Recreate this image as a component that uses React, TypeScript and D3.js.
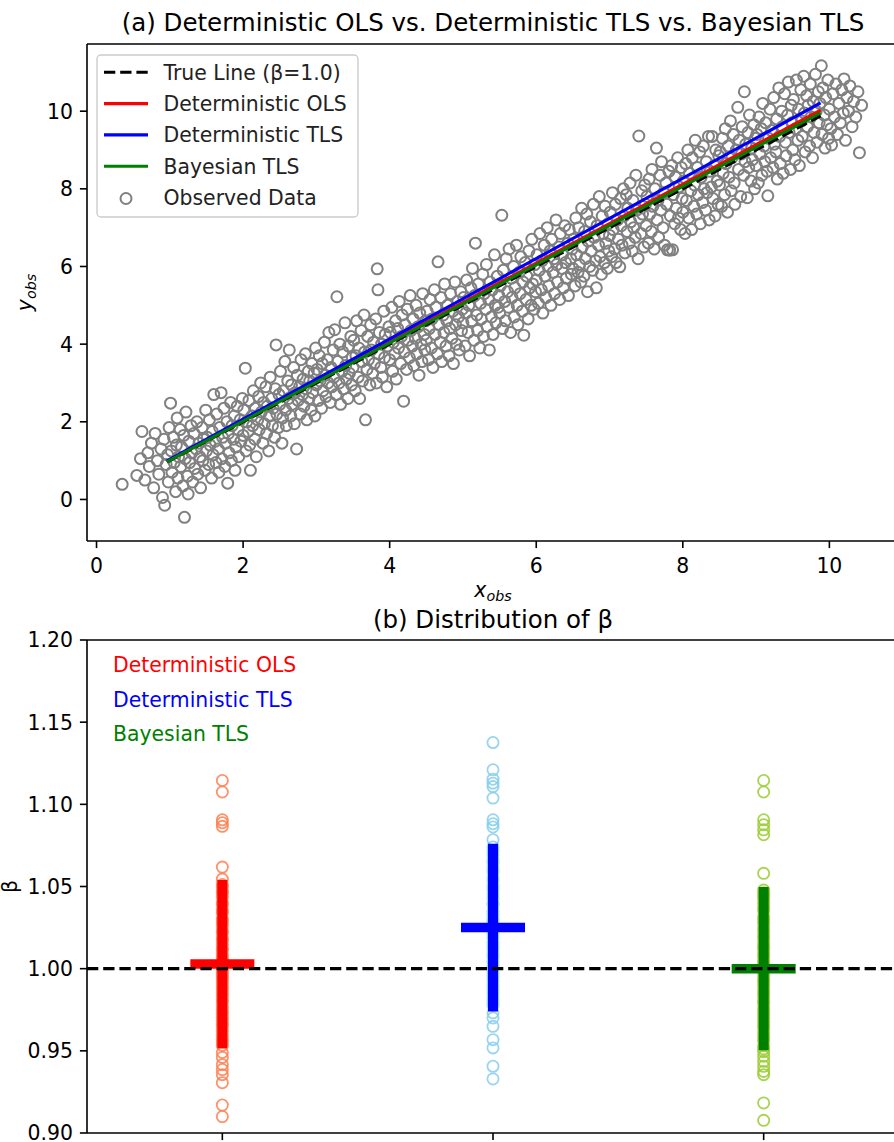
import React from 'react';
import * as d3 from 'd3';

const W = 894;
const H = 1142;
const FONT = "'DejaVu Sans', sans-serif";

const obsPoints: [number, number][] = [
[0.35,0.39],[0.55,0.62],[0.6,1.05],[0.62,1.75],[0.66,0.5],[0.7,1.2],[0.72,0.85],[0.75,1.45],[0.78,0.3],[0.8,1.7],[0.83,1.0],[0.85,0.65],[0.88,1.3],[0.9,0.05],[0.92,1.55],[0.93,-0.15],[0.95,0.9],[0.97,1.15],[0.98,0.45],[0.99,1.85],
[1.01,2.48],[1.02,1.25],[1.03,0.7],[1.05,1.6],[1.06,0.95],[1.08,0.2],[1.09,1.4],[1.1,2.1],[1.11,0.55],[1.12,1.1],[1.14,1.8],[1.15,0.85],[1.16,1.35],[1.18,0.35],[1.19,1.65],[1.2,-0.46],[1.21,1.05],[1.22,2.25],[1.24,0.6],[1.25,0.14],[1.26,1.5],[1.27,0.95],[1.29,1.9],[1.3,1.2],[1.31,0.45],[1.33,1.7],[1.34,0.8],[1.36,1.3],[1.37,2.0],[1.38,0.65],[1.4,1.45],[1.41,1.1],[1.42,0.3],[1.44,1.85],[1.45,1.0],[1.46,1.55],[1.48,0.75],[1.49,2.3],
[1.5,1.25],[1.51,1.6],[1.53,0.9],[1.54,2.05],[1.55,1.4],[1.57,0.55],[1.58,1.75],[1.59,1.15],[1.6,2.7],[1.62,1.5],[1.63,0.95],[1.64,2.2],[1.66,1.3],[1.67,0.7],[1.68,1.85],[1.7,2.75],[1.71,1.05],[1.72,1.6],[1.74,2.35],[1.75,0.85],[1.76,1.45],[1.78,2.0],[1.79,0.42],[1.8,1.7],[1.81,1.2],[1.83,2.5],[1.84,1.0],[1.85,1.9],[1.87,1.55],[1.88,2.15],[1.89,0.75],[1.9,1.35],[1.92,2.4],[1.93,1.8],[1.94,1.1],[1.96,2.05],[1.97,1.5],[1.99,2.6],
[2.0,1.65],[2.01,2.3],[2.03,3.38],[2.04,1.25],[2.05,2.0],[2.07,1.75],[2.08,2.55],[2.09,1.4],[2.1,0.75],[2.12,2.15],[2.13,1.9],[2.14,2.8],[2.16,1.55],[2.17,2.35],[2.18,1.1],[2.2,2.05],[2.21,2.65],[2.22,1.8],[2.24,3.0],[2.25,2.25],[2.27,1.45],[2.28,2.5],[2.29,1.95],[2.31,2.9],[2.32,1.7],[2.33,2.4],[2.35,1.25],[2.36,2.15],[2.37,3.15],[2.39,2.6],[2.4,1.9],[2.41,2.35],[2.43,1.6],[2.44,2.85],[2.45,3.98],[2.46,2.2],[2.48,1.85],[2.49,2.7],
[2.5,2.45],[2.51,3.3],[2.53,1.45],[2.54,2.1],[2.55,2.8],[2.57,3.55],[2.58,2.3],[2.59,1.9],[2.61,3.05],[2.62,2.6],[2.63,3.85],[2.65,2.15],[2.66,2.95],[2.67,2.45],[2.69,3.4],[2.7,1.95],[2.71,2.75],[2.73,1.3],[2.74,3.2],[2.75,2.55],[2.77,2.9],[2.78,2.2],[2.79,3.6],[2.81,2.7],[2.82,3.1],[2.83,2.4],[2.85,3.75],[2.86,2.85],[2.87,2.05],[2.89,3.3],[2.9,2.6],[2.91,3.05],[2.93,2.3],[2.94,3.5],[2.95,2.75],[2.97,3.25],[2.98,2.15],[2.99,3.9],
[3.0,2.95],[3.01,3.35],[3.03,2.55],[3.04,3.7],[3.05,3.05],[3.07,2.35],[3.08,3.5],[3.09,2.8],[3.11,4.05],[3.12,3.2],[3.13,2.65],[3.15,3.6],[3.16,3.0],[3.17,4.3],[3.19,2.5],[3.2,3.4],[3.21,2.9],[3.23,3.85],[3.24,3.15],[3.25,4.37],[3.27,2.7],[3.28,5.22],[3.29,3.55],[3.31,3.0],[3.32,4.0],[3.33,2.45],[3.35,3.3],[3.36,3.8],[3.37,2.85],[3.39,4.55],[3.4,3.45],[3.41,3.1],[3.43,2.6],[3.44,3.95],[3.45,3.25],[3.47,4.2],[3.48,2.95],[3.49,3.65],
[3.5,3.4],[3.51,4.1],[3.53,2.8],[3.54,3.7],[3.55,4.6],[3.57,3.15],[3.58,3.9],[3.59,2.6],[3.61,4.35],[3.62,3.55],[3.63,3.05],[3.65,4.75],[3.66,3.8],[3.67,2.05],[3.69,3.35],[3.7,4.2],[3.71,3.6],[3.73,2.95],[3.74,4.5],[3.75,3.85],[3.77,3.25],[3.78,4.05],[3.79,3.5],[3.81,4.65],[3.82,3.0],[3.83,5.94],[3.84,5.4],[3.85,3.75],[3.86,4.3],[3.88,3.4],[3.89,4.0],[3.9,3.15],[3.92,4.85],[3.93,3.65],[3.94,4.25],[3.96,2.9],[3.97,3.95],[3.99,4.45],
[4.0,3.6],[4.01,4.3],[4.03,4.95],[4.04,3.3],[4.05,4.05],[4.07,3.75],[4.08,4.6],[4.09,3.1],[4.11,4.4],[4.12,3.9],[4.13,5.1],[4.15,3.5],[4.16,4.2],[4.17,4.75],[4.19,2.53],[4.2,3.8],[4.21,4.5],[4.23,3.35],[4.24,4.9],[4.25,4.1],[4.27,3.65],[4.28,5.25],[4.29,4.35],[4.31,3.95],[4.32,4.65],[4.33,3.45],[4.35,4.15],[4.36,5.0],[4.37,3.75],[4.39,4.45],[4.4,3.2],[4.41,4.8],[4.43,4.0],[4.44,3.55],[4.45,5.3],[4.47,4.25],[4.48,3.85],[4.49,4.6],
[4.5,4.1],[4.51,4.85],[4.53,3.6],[4.54,4.4],[4.55,5.15],[4.57,3.9],[4.58,4.65],[4.59,3.4],[4.61,5.4],[4.62,4.25],[4.63,4.95],[4.65,3.75],[4.66,6.12],[4.67,4.5],[4.69,4.05],[4.7,5.2],[4.71,3.55],[4.73,4.75],[4.74,4.3],[4.75,5.55],[4.77,3.95],[4.78,4.6],[4.79,5.0],[4.81,3.7],[4.82,4.4],[4.83,5.3],[4.85,4.15],[4.86,4.85],[4.87,3.5],[4.89,5.6],[4.9,4.5],[4.91,4.0],[4.93,5.1],[4.94,4.7],[4.95,3.85],[4.97,5.35],[4.98,4.35],[4.99,4.9],
[5.0,4.55],[5.01,5.2],[5.03,3.95],[5.04,4.8],[5.05,5.65],[5.07,4.3],[5.08,5.0],[5.09,3.7],[5.11,5.45],[5.12,4.6],[5.13,5.95],[5.15,4.1],[5.16,5.25],[5.17,6.6],[5.19,4.75],[5.2,4.35],[5.21,5.55],[5.23,3.9],[5.24,5.05],[5.25,4.65],[5.27,5.8],[5.28,4.2],[5.29,5.3],[5.31,4.9],[5.32,6.05],[5.33,4.45],[5.35,5.15],[5.36,3.85],[5.37,5.6],[5.39,4.7],[5.4,5.4],[5.41,4.25],[5.43,6.3],[5.44,5.0],[5.45,4.55],[5.47,5.75],[5.48,4.95],[5.49,5.25],
[5.5,4.8],[5.51,5.5],[5.53,7.32],[5.54,4.4],[5.55,5.9],[5.57,5.1],[5.58,4.6],[5.59,6.2],[5.61,5.35],[5.62,4.95],[5.63,6.45],[5.65,4.3],[5.66,5.7],[5.67,5.2],[5.69,6.0],[5.7,4.7],[5.71,5.45],[5.73,6.55],[5.74,5.0],[5.75,4.5],[5.77,5.85],[5.78,5.3],[5.79,6.25],[5.81,4.85],[5.82,5.6],[5.83,4.23],[5.85,6.1],[5.86,5.15],[5.87,5.75],[5.89,4.65],[5.9,6.4],[5.91,5.45],[5.93,5.0],[5.94,6.7],[5.95,5.55],[5.97,4.9],[5.98,6.05],[5.99,5.35],
[6.0,5.65],[6.01,6.3],[6.03,5.05],[6.04,5.9],[6.05,6.85],[6.07,5.4],[6.08,6.15],[6.09,4.8],[6.11,6.55],[6.12,5.75],[6.13,5.2],[6.15,7.0],[6.16,6.0],[6.17,5.5],[6.19,6.4],[6.2,5.0],[6.21,6.7],[6.23,5.85],[6.24,6.2],[6.25,5.3],[6.27,7.2],[6.28,6.05],[6.29,5.6],[6.31,6.5],[6.32,5.15],[6.33,6.85],[6.35,5.95],[6.36,6.3],[6.37,5.45],[6.39,7.05],[6.4,6.1],[6.41,5.7],[6.43,6.6],[6.44,5.25],[6.45,6.95],[6.47,6.2],[6.48,5.8],[6.49,6.45],
[6.5,5.95],[6.51,6.7],[6.53,5.5],[6.54,7.25],[6.55,6.3],[6.57,5.85],[6.58,7.0],[6.59,6.05],[6.61,5.6],[6.62,7.5],[6.63,6.5],[6.65,5.75],[6.66,6.9],[6.67,6.2],[6.69,7.35],[6.7,5.35],[6.71,6.65],[6.73,6.0],[6.74,7.15],[6.75,6.4],[6.77,5.9],[6.78,7.6],[6.79,6.75],[6.81,6.15],[6.82,5.45],[6.83,7.05],[6.85,6.55],[6.86,7.8],[6.87,6.25],[6.89,5.8],[6.9,7.3],[6.91,6.85],[6.93,6.1],[6.94,7.55],[6.95,6.6],[6.97,5.95],[6.98,7.1],[6.99,6.4],
[7.0,6.8],[7.01,7.4],[7.03,6.25],[7.04,7.9],[7.05,6.95],[7.07,6.45],[7.08,7.6],[7.09,6.1],[7.11,7.2],[7.12,6.7],[7.14,5.99],[7.15,7.75],[7.16,7.05],[7.17,6.55],[7.19,8.0],[7.2,7.3],[7.21,6.35],[7.23,7.85],[7.24,6.9],[7.25,7.5],[7.27,6.6],[7.28,8.15],[7.29,7.15],[7.31,6.4],[7.32,7.7],[7.33,7.0],[7.35,6.75],[7.36,8.35],[7.37,7.45],[7.39,6.2],[7.4,9.36],[7.41,7.25],[7.43,6.85],[7.44,7.95],[7.45,7.35],[7.47,6.5],[7.48,8.1],[7.49,7.6],
[7.5,7.05],[7.51,7.8],[7.53,6.6],[7.54,8.25],[7.55,7.35],[7.57,6.9],[7.58,8.5],[7.59,7.55],[7.61,6.45],[7.62,8.0],[7.64,9.05],[7.65,7.2],[7.66,7.7],[7.67,6.75],[7.69,8.35],[7.7,7.45],[7.71,8.7],[7.73,7.0],[7.74,7.9],[7.75,6.55],[7.77,8.15],[7.78,7.6],[7.79,6.43],[7.81,8.45],[7.82,6.42],[7.83,7.3],[7.85,8.6],[7.86,6.43],[7.87,7.85],[7.89,7.1],[7.9,8.3],[7.91,7.5],[7.93,8.8],[7.94,7.25],[7.95,8.05],[7.97,6.95],[7.98,8.55],[7.99,7.75],
[8.0,7.4],[8.01,8.2],[8.03,6.85],[8.04,8.65],[8.05,7.7],[8.07,9.0],[8.08,7.25],[8.09,8.4],[8.11,7.95],[8.12,6.95],[8.13,8.8],[8.15,7.55],[8.16,8.1],[8.17,9.25],[8.19,7.35],[8.2,8.55],[8.21,7.85],[8.23,8.95],[8.24,7.1],[8.25,8.3],[8.27,7.65],[8.28,9.1],[8.29,8.0],[8.31,7.45],[8.32,8.7],[8.33,7.9],[8.35,9.35],[8.36,7.2],[8.37,8.45],[8.39,8.05],[8.4,9.35],[8.41,7.75],[8.43,8.6],[8.44,7.3],[8.45,9.0],[8.47,8.2],[8.48,7.6],[8.49,8.85],
[8.5,8.1],[8.51,8.95],[8.53,7.55],[8.54,9.3],[8.55,8.4],[8.57,7.85],[8.58,9.55],[8.59,8.65],[8.61,7.4],[8.62,9.1],[8.63,8.3],[8.65,9.75],[8.66,7.95],[8.67,8.8],[8.69,9.4],[8.7,8.15],[8.71,7.6],[8.73,9.0],[8.75,10.1],[8.76,8.5],[8.77,9.25],[8.79,7.8],[8.8,8.9],[8.81,9.6],[8.83,8.35],[8.84,10.5],[8.85,8.7],[8.86,9.15],[8.88,7.77],[8.89,9.45],[8.9,8.55],[8.91,9.9],[8.93,8.2],[8.94,9.05],[8.95,8.75],[8.97,9.65],[8.98,8.0],[8.99,9.3],
[9.0,8.6],[9.01,9.4],[9.03,8.15],[9.04,9.85],[9.05,8.9],[9.07,9.55],[9.08,8.35],[9.09,10.2],[9.11,9.1],[9.12,8.7],[9.13,9.7],[9.15,8.45],[9.16,7.82],[9.17,9.3],[9.19,10.05],[9.2,8.8],[9.21,9.5],[9.23,8.55],[9.24,10.35],[9.25,9.15],[9.27,8.95],[9.28,9.8],[9.29,8.25],[9.31,10.6],[9.32,9.35],[9.33,8.65],[9.35,10.0],[9.36,9.6],[9.37,8.4],[9.39,10.45],[9.4,9.2],[9.41,8.85],[9.43,9.9],[9.44,10.75],[9.45,9.45],[9.47,8.5],[9.48,10.15],[9.49,9.7],
[9.5,9.0],[9.51,10.3],[9.53,8.75],[9.54,9.55],[9.55,10.8],[9.57,9.25],[9.58,10.05],[9.59,8.6],[9.61,10.55],[9.62,9.75],[9.63,9.35],[9.65,10.9],[9.66,9.95],[9.67,8.95],[9.69,10.4],[9.7,9.6],[9.71,10.15],[9.73,9.1],[9.74,10.7],[9.75,9.85],[9.77,8.8],[9.78,10.25],[9.79,9.45],[9.81,10.95],[9.82,10.0],[9.83,9.2],[9.85,10.5],[9.86,9.7],[9.87,10.2],[9.89,11.17],[9.9,9.4],[9.91,10.6],[9.93,9.9],[9.94,9.05],[9.95,10.35],[9.97,9.65],[9.98,10.8],[9.99,9.3],
[10.0,10.05],[10.02,9.55],[10.03,9.13],[10.05,10.45],[10.07,9.85],[10.09,10.7],[10.11,9.4],[10.13,10.2],[10.15,9.7],[10.17,10.55],[10.19,9.95],[10.2,10.83],[10.22,9.25],[10.24,10.35],[10.26,10.0],[10.28,10.65],[10.31,9.6],[10.33,10.25],[10.36,9.85],[10.39,10.5],[10.41,8.93],[10.44,10.15]
];

// Fitted lines (through origin), drawn over the x_true range
const lineXRange = [0.96, 9.88];
const fitNames = ['True Line (β=1.0)', 'Deterministic OLS', 'Deterministic TLS', 'Bayesian TLS'];
const fitBetas = [1.0, 1.015, 1.034, 1.008];
const fitColors = ['#000000', '#ff0000', '#0000ff', '#008000'];
const fitDashed = [true, false, false, false];

// Panel (b): beta estimates per method
const methodNames = ['Deterministic OLS', 'Deterministic TLS', 'Bayesian TLS'];
const betaOLS = [1.1145, 1.1075, 1.0906, 1.0888, 1.0866, 1.0618, 1.0545, 1.0512, 1.0498, 1.0471, 1.0463, 1.0437, 1.0402, 1.0389, 1.0355, 1.0341, 1.0302, 1.0287, 1.0264, 1.0231, 1.0219, 1.0188, 1.0172, 1.0145, 1.0121, 1.0113, 1.0086, 1.0067, 1.0052, 1.0041, 1.0028, 1.0013, 0.9995, 0.9982, 0.9961, 0.9948, 0.9933, 0.9915, 0.9891, 0.9877, 0.9852, 0.9834, 0.9811, 0.9795, 0.9768, 0.9742, 0.9724, 0.9701, 0.9685, 0.9663, 0.9651, 0.9624, 0.9598, 0.9571, 0.9552, 0.9533, 0.949, 0.946, 0.9416, 0.9386, 0.9355, 0.9306, 0.917, 0.910];
const betaTLS = [1.1376, 1.121, 1.1153, 1.1129, 1.1108, 1.1038, 1.0906, 1.0882, 1.0862, 1.0785, 1.0741, 1.0718, 1.0693, 1.0664, 1.0642, 1.0611, 1.0587, 1.0553, 1.0534, 1.0502, 1.0481, 1.0455, 1.0428, 1.0401, 1.0387, 1.0352, 1.0329, 1.0301, 1.0284, 1.0261, 1.0238, 1.0212, 1.0189, 1.0163, 1.0141, 1.0118, 1.0092, 1.0071, 1.0043, 1.0019, 0.9996, 0.9972, 0.9951, 0.9927, 0.9898, 0.9872, 0.9849, 0.9823, 0.9801, 0.9778, 0.9731, 0.970, 0.9649, 0.9568, 0.9518, 0.9406, 0.9329];
const betaBayes = [1.1145, 1.1075, 1.0906, 1.0876, 1.0845, 1.0815, 1.058, 1.0478, 1.0462, 1.0441, 1.0425, 1.0398, 1.0371, 1.0352, 1.0317, 1.0298, 1.0276, 1.0249, 1.0227, 1.0201, 1.0183, 1.0154, 1.0132, 1.0118, 1.0091, 1.0073, 1.0048, 1.0031, 1.0012, 0.9997, 0.9979, 0.9958, 0.9934, 0.9917, 0.9896, 0.9871, 0.9853, 0.9832, 0.9806, 0.9789, 0.9761, 0.9743, 0.9722, 0.9698, 0.9676, 0.9658, 0.9639, 0.9611, 0.9584, 0.9563, 0.9531, 0.9512, 0.9495, 0.9467, 0.9436, 0.9406, 0.9375, 0.9355, 0.9183, 0.9077];
const betaMeans = [1.0028, 1.0250, 1.0000];
const betaStds = [0.0512, 0.0510, 0.0497];
const pointColors = ['#ff7f50', '#87ceeb', '#9acd32'];
const barColors = ['#ff0000', '#0000ff', '#008000'];
const labelColors = ['#ff0000', '#0000ff', '#008000'];

const xTicksA = [0, 2, 4, 6, 8, 10];
const yTicksA = [0, 2, 4, 6, 8, 10];
const yTicksB = [0.9, 0.95, 1.0, 1.05, 1.1, 1.15, 1.2];

export default function App() {
  const FS = 20.4;
  const TFS = 24.5;
  const axL = 87, axR = 899;
  const aTop = 44, aBot = 541;
  const bTop = 640, bBot = 1133;

  const xA = d3.scaleLinear().domain([-0.13, 10.95]).range([axL, axR]);
  const yA = d3.scaleLinear().domain([-1.07, 11.73]).range([aBot, aTop]);
  const xB = d3.scaleLinear().domain([-0.5, 2.5]).range([axL, axR]);
  const yB = d3.scaleLinear().domain([0.9, 1.2]).range([bBot, bTop]);

  const lineGen = d3.line<[number, number]>().x(d => xA(d[0])).y(d => yA(d[1]));
  const betaSets = [betaOLS, betaTLS, betaBayes];

  const legendY0 = 72.3;
  const legendDY = 31.3;

  return (
    <svg width={W} height={H} viewBox={`0 0 ${W} ${H}`} style={{ position: 'absolute', left: 0, top: 0, background: '#fff' }} fontFamily={FONT}>
      <rect x={0} y={0} width={W} height={H} fill="#fff" />
      <defs>
        <clipPath id="clipA"><rect x={axL} y={aTop} width={axR - axL} height={aBot - aTop} /></clipPath>
        <clipPath id="clipB"><rect x={axL} y={bTop} width={axR - axL} height={bBot - bTop} /></clipPath>
      </defs>

      {/* ---------- Panel (a) ---------- */}
      <g clipPath="url(#clipA)">
        {obsPoints.map((p, i) => (
          <circle key={i} cx={xA(p[0])} cy={yA(p[1])} r={5.5} fill="none" stroke="#808080" strokeWidth={2} />
        ))}
        {fitBetas.map((b, i) => (
          <path key={i}
            d={lineGen(lineXRange.map(x => [x, b * x] as [number, number])) || ''}
            fill="none" stroke={fitColors[i]} strokeWidth={fitDashed[i] ? 3.1 : 3.1}
            strokeDasharray={fitDashed[i] ? '11.3,4.9' : undefined} />
        ))}
      </g>
      {/* spines */}
      <line x1={axL} y1={aTop} x2={axL} y2={aBot} stroke="#000" strokeWidth={1.6} />
      <line x1={axL} y1={aBot} x2={axR} y2={aBot} stroke="#000" strokeWidth={1.6} />
      <line x1={axL} y1={aTop} x2={axR} y2={aTop} stroke="#000" strokeWidth={1.6} />
      <line x1={axR} y1={aTop} x2={axR} y2={aBot} stroke="#000" strokeWidth={1.6} />
      {xTicksA.map(t => (
        <g key={t}>
          <line x1={xA(t)} x2={xA(t)} y1={aBot} y2={aBot + 7.1} stroke="#000" strokeWidth={1.6} />
          <text x={xA(t)} y={573} fontSize={FS} textAnchor="middle" fill="#000">{t}</text>
        </g>
      ))}
      {yTicksA.map(t => (
        <g key={t}>
          <line x1={axL - 7.1} x2={axL} y1={yA(t)} y2={yA(t)} stroke="#000" strokeWidth={1.6} />
          <text x={73} y={yA(t) + 7.4} fontSize={FS} textAnchor="end" fill="#000">{t}</text>
        </g>
      ))}
      <text x={(axL + axR) / 2} y={31} fontSize={TFS} textAnchor="middle" fill="#000">
        (a) Deterministic OLS vs. Deterministic TLS vs. Bayesian TLS
      </text>
      <text x={(axL + axR) / 2} y={597} fontSize={FS} textAnchor="middle" fill="#000">
        <tspan fontStyle="italic">x</tspan><tspan fontStyle="italic" fontSize={FS * 0.7} dy={4}>obs</tspan>
      </text>
      <text transform={`translate(32,${(aTop + aBot) / 2}) rotate(-90)`} fontSize={FS} textAnchor="middle" fill="#000">
        <tspan fontStyle="italic">y</tspan><tspan fontStyle="italic" fontSize={FS * 0.7} dy={4}>obs</tspan>
      </text>

      {/* legend (a) */}
      <rect x={97} y={55} width={261} height={162} rx={4} ry={4} fill="#fff" fillOpacity={0.8} stroke="#cccccc" strokeWidth={1.4} />
      {fitNames.map((n, i) => (
        <g key={n}>
          <line x1={104} x2={148} y1={legendY0 + i * legendDY} y2={legendY0 + i * legendDY}
            stroke={fitColors[i]} strokeWidth={3.1} strokeDasharray={fitDashed[i] ? '11.3,4.9' : undefined} />
          <text x={163.5} y={legendY0 + i * legendDY + 7.5} fontSize={FS} fill="#222">{n}</text>
        </g>
      ))}
      <circle cx={126} cy={legendY0 + 4 * legendDY + 1} r={5.5} fill="none" stroke="#808080" strokeWidth={2} />
      <text x={163.5} y={legendY0 + 4 * legendDY + 7.5} fontSize={FS} fill="#222">Observed Data</text>

      {/* ---------- Panel (b) ---------- */}
      <g clipPath="url(#clipB)">
        {betaSets.map((set, k) => set.map((v, i) => (
          <circle key={`${k}-${i}`} cx={xB(k)} cy={yB(v)} r={5.6} fill="none" stroke={pointColors[k]} strokeOpacity={0.85} strokeWidth={1.8} />
        )))}
        {betaMeans.map((m, k) => (
          <g key={k}>
            <line x1={xB(k)} x2={xB(k)} y1={yB(m - betaStds[k])} y2={yB(m + betaStds[k])} stroke={barColors[k]} strokeWidth={10} />
            <line x1={xB(k) - 32} x2={xB(k) + 32} y1={yB(m)} y2={yB(m)} stroke={barColors[k]} strokeWidth={9.5} />
          </g>
        ))}
        <line x1={axL} x2={axR} y1={yB(1.0)} y2={yB(1.0)} stroke="#000" strokeWidth={3.1} strokeDasharray="11.3,4.9" />
      </g>
      <line x1={axL} y1={bTop} x2={axL} y2={bBot} stroke="#000" strokeWidth={1.6} />
      <line x1={axL} y1={bBot} x2={axR} y2={bBot} stroke="#000" strokeWidth={1.6} />
      <line x1={axL} y1={bTop} x2={axR} y2={bTop} stroke="#000" strokeWidth={1.6} />
      <line x1={axR} y1={bTop} x2={axR} y2={bBot} stroke="#000" strokeWidth={1.6} />
      {methodNames.map((n, k) => (
        <line key={n} x1={xB(k)} x2={xB(k)} y1={bBot} y2={bBot + 7.1} stroke="#000" strokeWidth={1.6} />
      ))}
      {yTicksB.map(t => (
        <g key={t}>
          <line x1={axL - 7.1} x2={axL} y1={yB(t)} y2={yB(t)} stroke="#000" strokeWidth={1.6} />
          <text x={73} y={yB(t) + 7.4} fontSize={FS} textAnchor="end" fill="#000">{t.toFixed(2)}</text>
        </g>
      ))}
      <text x={(axL + axR) / 2} y={628} fontSize={TFS} textAnchor="middle" fill="#000">(b) Distribution of β</text>
      <text transform={`translate(17,${(bTop + bBot) / 2}) rotate(-90)`} fontSize={FS} textAnchor="middle" fill="#000">β</text>
      {methodNames.map((n, k) => (
        <text key={n} x={113} y={672 + k * 34.5} fontSize={FS} fill={labelColors[k]}>{n}</text>
      ))}
    </svg>
  );
}
